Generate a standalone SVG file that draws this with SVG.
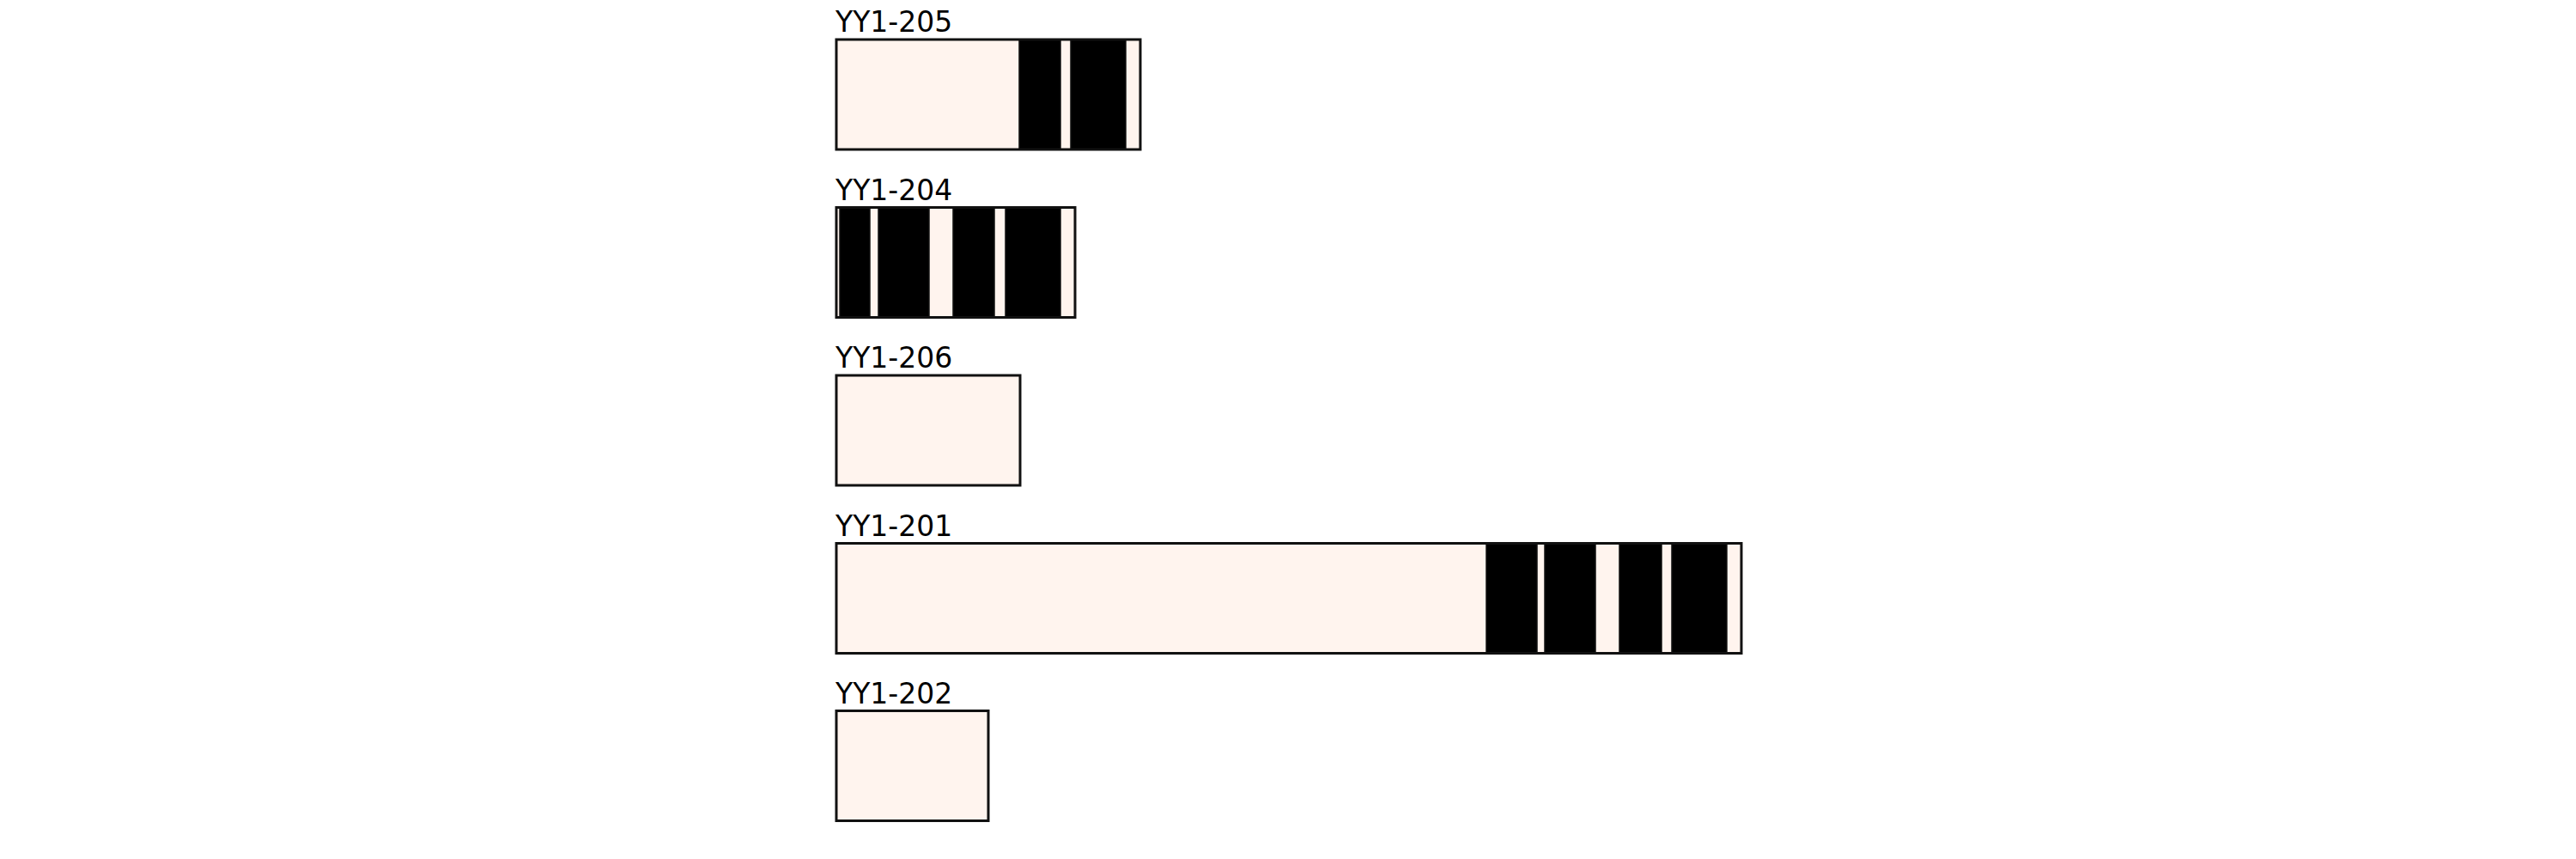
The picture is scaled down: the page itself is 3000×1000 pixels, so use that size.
<svg xmlns="http://www.w3.org/2000/svg" width="3000" height="1000" viewBox="0 0 3000 1000">
<style>
.lbl{font-family:"DejaVu Sans",sans-serif;font-size:33px;fill:#000}
.bg{fill:#fff4ee;stroke:none}
.blk{fill:#000;stroke:#111;stroke-width:1.5}
.out{fill:none;stroke:#111;stroke-width:3}
</style>
<rect width="3000" height="1000" fill="#fff"/>
<g id="YY1-205">
<text class="lbl" x="973" y="37">YY1-205</text>
<rect class="bg" x="974" y="46" width="354" height="128"/>
<rect class="blk" x="1187" y="46" width="48" height="128"/>
<rect class="blk" x="1247" y="46" width="64" height="128"/>
<rect class="out" x="974" y="46" width="354" height="128"/>
</g>
<g id="YY1-204">
<text class="lbl" x="973" y="233">YY1-204</text>
<rect class="bg" x="974" y="241.5" width="278" height="128"/>
<rect class="blk" x="978" y="241.5" width="35" height="128"/>
<rect class="blk" x="1023" y="241.5" width="59" height="128"/>
<rect class="blk" x="1110" y="241.5" width="48" height="128"/>
<rect class="blk" x="1171" y="241.5" width="64" height="128"/>
<rect class="out" x="974" y="241.5" width="278" height="128"/>
</g>
<g id="YY1-206">
<text class="lbl" x="973" y="428">YY1-206</text>
<rect class="bg" x="974" y="437" width="214" height="128"/>
<rect class="out" x="974" y="437" width="214" height="128"/>
</g>
<g id="YY1-201">
<text class="lbl" x="973" y="624">YY1-201</text>
<rect class="bg" x="974" y="632.5" width="1054" height="128"/>
<rect class="blk" x="1731" y="632.5" width="59" height="128"/>
<rect class="blk" x="1799" y="632.5" width="59" height="128"/>
<rect class="blk" x="1886" y="632.5" width="49" height="128"/>
<rect class="blk" x="1947" y="632.5" width="64" height="128"/>
<rect class="out" x="974" y="632.5" width="1054" height="128"/>
</g>
<g id="YY1-202">
<text class="lbl" x="973" y="819">YY1-202</text>
<rect class="bg" x="974" y="827.5" width="177" height="128"/>
<rect class="out" x="974" y="827.5" width="177" height="128"/>
</g>
<g id="connectors"></g>
</svg>
